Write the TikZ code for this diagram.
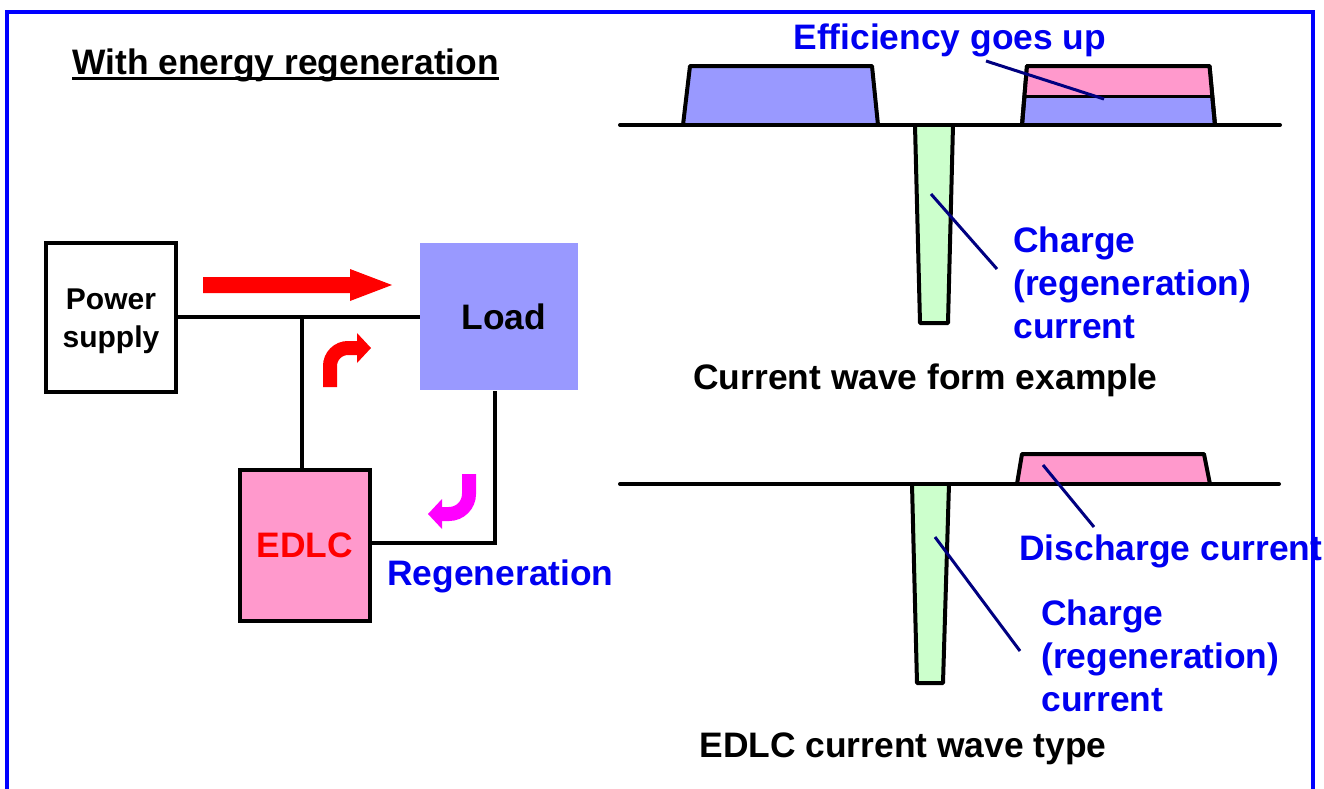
\documentclass[tikz,border=0pt]{standalone}
\usepackage{fontspec}
\setmainfont{Liberation Sans}
\definecolor{lav}{RGB}{153,153,255}
\definecolor{pinkf}{RGB}{255,153,204}
\definecolor{greenf}{RGB}{204,255,204}
\definecolor{txtblue}{RGB}{0,0,240}
\definecolor{bordblue}{RGB}{0,0,255}
\definecolor{navyc}{RGB}{0,0,128}
\definecolor{magc}{RGB}{255,0,255}
\definecolor{redc}{RGB}{255,0,0}
\newcommand\mybig{\fontsize{17.7pt}{21.5pt}\selectfont\bfseries}
\newcommand\mymid{\fontsize{15pt}{19pt}\selectfont\bfseries}
\tikzset{
  wire/.style={line width=2pt},
  wave/.style={draw=black, line width=2pt, line join=round},
  leader/.style={draw=navyc, line width=1.5pt},
  bluelbl/.style={text=txtblue, font=\mybig, inner sep=0pt, anchor=base west},
  blklbl/.style={text=black, font=\mybig, inner sep=0pt, anchor=base west},
  boxnode/.style={inner sep=0pt, outer sep=0pt},
}
\begin{document}
\begin{tikzpicture}[x=0.5pt,y=-0.5pt]
\useasboundingbox (0,0) rectangle (1324,788);
% border
\draw[bordblue, line width=2pt] (7,800) -- (7,12) -- (1313,12) -- (1313,800);

% title
\node[blklbl] (title) at (72,74) {With energy regeneration};
\draw[line width=1.5pt] ([yshift=-2pt]title.base west) -- ([yshift=-2pt]title.base east);

% circuit boxes
\node[boxnode, draw=black, line width=2pt, minimum width=65pt, minimum height=74.5pt] (ps) at (111,317.5) {};
\node[font=\mymid, align=center, inner sep=0pt] (pstext) at (111,321.5) {Power\\supply};
\node[boxnode, fill=lav, minimum width=79pt, minimum height=73.5pt, font=\mybig] (load) at (499,316.5) {\hspace*{5pt}Load};
\node[boxnode, draw=black, fill=pinkf, line width=2pt, minimum width=65pt, minimum height=75.5pt,
      font=\mybig, text=redc] (edlc) at (305,545.5) {EDLC};

% wires
\coordinate (j1) at (302,317);
\coordinate (c1) at (495,391);
\coordinate (c2) at (495,543);
\draw[wire] (ps.east |- j1) -- (load.west |- j1);
\draw[wire] (j1) -- (j1 |- edlc.north);
\draw[wire] (c1) -- (c2) -- (c2 -| edlc.east);

% straight red arrow
\fill[redc] (203,277) -- (350,277) -- (350,269) -- (392,285) -- (350,301) -- (350,293) -- (203,293) -- cycle;
% curved red arrow
\draw[redc, line width=7pt, rounded corners=9pt] (330,387) -- (330,348) -- (358,348);
\fill[redc] (357,333) -- (371,348) -- (357,363) -- cycle;
% curved magenta arrow
\draw[magc, line width=7pt, rounded corners=10pt] (469,474) -- (469,514) -- (441,514);
\fill[magc] (442,499) -- (428,514) -- (442,529) -- cycle;

\node[bluelbl] (regen) at (387,585) {Regeneration};

% ---------- top waveform ----------
\draw[wave, fill=lav] (683,125) -- (690,66) -- (872,66) -- (878,125);
\draw[wave, fill=lav] (1022,125) -- (1027,66) -- (1209.5,66) -- (1215,125);
\fill[pinkf] (1027,66) -- (1209.5,66) -- (1212.3,96) -- (1024.5,96) -- cycle;
\draw[wave] (1022,125) -- (1027,66) -- (1209.5,66) -- (1215,125);
\draw[line width=1.5pt] (1024.5,96) -- (1212.3,96);
\draw[wave, fill=greenf] (915,125) -- (920,323) -- (948,323) -- (953,125);
\coordinate (b1s) at (620,125);
\coordinate (b1e) at (1280,125);
\draw[wave, line cap=round] (b1s) -- (b1e);

\node[bluelbl] (eff) at (793,49) {Efficiency goes up};
\coordinate (effp) at (1104,99);
\draw[leader] (986,61) -- (effp);

\node[bluelbl] (ch1a) at (1013,252) {Charge};
\node[bluelbl] (ch1b) at (1013,295) {(regeneration)};
\node[bluelbl] (ch1c) at (1013,338) {current};
\coordinate (ch1p) at (931,194);
\draw[leader] (ch1p) -- (997,269);

\node[blklbl] (cap1) at (693,389) {Current wave form example};

% ---------- bottom waveform ----------
\draw[wave, fill=pinkf] (1017,484) -- (1022,454) -- (1204,454) -- (1210,484);
\draw[wave, fill=greenf] (912,484) -- (917,683) -- (943,683) -- (949,484);
\coordinate (b2s) at (620,484);
\coordinate (b2e) at (1279,484);
\draw[wave, line cap=round] (b2s) -- (b2e);

\node[bluelbl] (dis) at (1019,560) {Discharge current};
\coordinate (disp) at (1043,465);
\draw[leader] (disp) -- (1094,527);

\node[bluelbl] (ch2a) at (1041,625) {Charge};
\node[bluelbl] (ch2b) at (1041,668) {(regeneration)};
\node[bluelbl] (ch2c) at (1041,711) {current};
\coordinate (ch2p) at (935,537);
\draw[leader] (ch2p) -- (1020,651);

\node[blklbl] (cap2) at (699,757) {EDLC current wave type};
\end{tikzpicture}
\end{document}
